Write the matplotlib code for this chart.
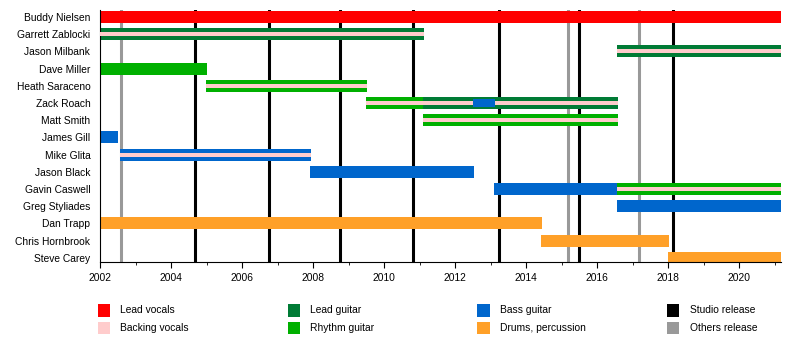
import matplotlib
matplotlib.use('Agg')
from matplotlib import pyplot as plt
from matplotlib.patches import Rectangle
from matplotlib.ticker import MultipleLocator

plt.rcParams['font.family'] = ['Liberation Sans', 'DejaVu Sans']

END = 2021.17

members = ['Buddy Nielsen', 'Garrett Zablocki', 'Jason Milbank', 'Dave Miller',
           'Heath Saraceno', 'Zack Roach', 'Matt Smith', 'James Gill', 'Mike Glita',
           'Jason Black', 'Gavin Caswell', 'Greg Styliades', 'Dan Trapp',
           'Chris Hornbrook', 'Steve Carey']

# (member, start, end, role, backing vocals)
spans = [
    ('Buddy Nielsen', 2002.0, END, 'Lead vocals', False),
    ('Garrett Zablocki', 2002.0, 2011.11, 'Lead guitar', True),
    ('Jason Milbank', 2016.54, END, 'Lead guitar', True),
    ('Dave Miller', 2002.0, 2005.01, 'Rhythm guitar', False),
    ('Heath Saraceno', 2004.98, 2009.51, 'Rhythm guitar', True),
    ('Zack Roach', 2009.48, 2011.09, 'Rhythm guitar', True),
    ('Zack Roach', 2011.09, 2016.57, 'Lead guitar', True),
    ('Matt Smith', 2011.09, 2016.57, 'Rhythm guitar', True),
    ('James Gill', 2002.0, 2002.51, 'Bass guitar', False),
    ('Mike Glita', 2002.56, 2007.94, 'Bass guitar', True),
    ('Jason Black', 2007.91, 2012.52, 'Bass guitar', False),
    ('Gavin Caswell', 2013.08, 2016.54, 'Bass guitar', False),
    ('Gavin Caswell', 2016.54, END, 'Rhythm guitar', True),
    ('Greg Styliades', 2016.54, END, 'Bass guitar', False),
    ('Dan Trapp', 2002.0, 2014.43, 'Drums, percussion', False),
    ('Chris Hornbrook', 2014.40, 2018.03, 'Drums, percussion', False),
    ('Steve Carey', 2018.0, END, 'Drums, percussion', False),
]
# thin overlay spans
extra = [('Zack Roach', 2012.50, 2013.11, 'Bass guitar')]

studio = [2004.67, 2006.75, 2008.75, 2010.81, 2013.23, 2015.48, 2018.13]
others = [2002.59, 2015.17, 2017.17]

colors = {
    'Lead vocals': '#ff0000',
    'Backing vocals': '#ffcccc',
    'Lead guitar': '#007b35',
    'Rhythm guitar': '#00b000',
    'Bass guitar': '#0066cc',
    'Drums, percussion': '#ffa028',
    'Studio release': '#000000',
    'Others release': '#999999',
}

FS = 7.4

fig = plt.figure(figsize=(8, 3.52), dpi=100)
ax = fig.add_axes([0.125, 0.2557, 0.85125, 0.7159])

for x in studio:
    ax.axvline(x, color=colors['Studio release'], lw=2.2, zorder=1)
for x in others:
    ax.axvline(x, color=colors['Others release'], lw=2.2, zorder=1)

ypos = {m: i for i, m in enumerate(members)}
h = 0.70
for name, s, e, role, bv in spans:
    y = ypos[name]
    ax.barh(y, e - s, left=s, height=h, color=colors[role], zorder=2, linewidth=0)
    if bv:
        ax.barh(y, e - s, left=s, height=h * 0.34, color=colors['Backing vocals'],
                zorder=3, linewidth=0)
for name, s, e, role in extra:
    ax.barh(ypos[name], e - s, left=s, height=0.43, color=colors[role], zorder=4,
            linewidth=0)

ax.set_xlim(2002, END)
ax.set_ylim(14.24, -0.41)
ax.set_yticks(range(len(members)))
ax.set_yticklabels(members, fontsize=FS)
ax.tick_params(axis='y', length=0, pad=7)
ax.xaxis.set_major_locator(MultipleLocator(2))
ax.xaxis.set_minor_locator(MultipleLocator(1))
ax.tick_params(axis='x', which='major', length=4, labelsize=FS, pad=4)
ax.tick_params(axis='x', which='minor', length=2)
ax.spines['top'].set_visible(False)
ax.spines['right'].set_visible(False)

# legend drawn by hand
order = [['Lead vocals', 'Backing vocals'], ['Lead guitar', 'Rhythm guitar'],
         ['Bass guitar', 'Drums, percussion'], ['Studio release', 'Others release']]
W, H = 800.0, 352.0
for c, col in enumerate(order):
    x0 = 97.7 + c * 189.8
    for r, lab in enumerate(col):
        yc = 310.3 + r * 17.5
        fig.add_artist(Rectangle((x0 / W, 1 - (yc + 6.3) / H), 12.3 / W, 12.6 / H,
                                 transform=fig.transFigure, color=colors[lab], lw=0))
        fig.text((x0 + 22.5) / W, 1 - yc / H, lab, fontsize=FS, va='center', ha='left')

fig.savefig('out.png', dpi=100)
